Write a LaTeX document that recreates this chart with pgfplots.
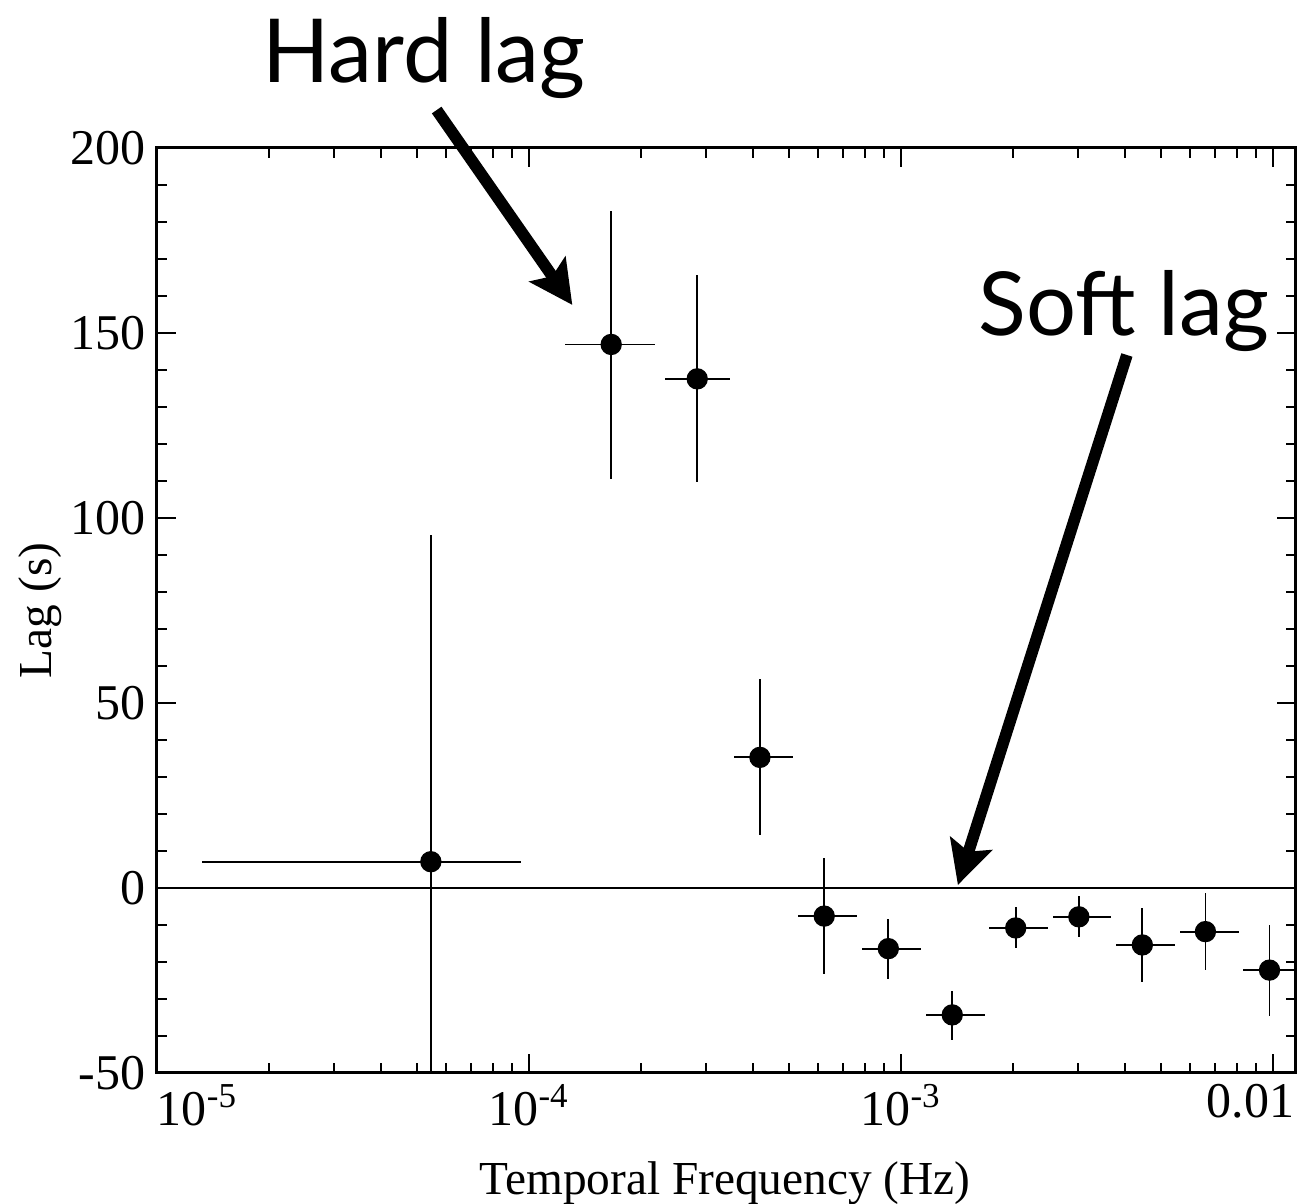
\documentclass[border=0pt]{standalone}
\usepackage{fontspec}
\setmainfont{Liberation Serif}
\newfontfamily\annotfont{Lato}
\usepackage{pgfplots}
\pgfplotsset{compat=1.18}
\usetikzlibrary{arrows.meta}
\begin{document}
\begin{tikzpicture}
\begin{axis}[
  width=341.7pt, height=277.5pt, scale only axis,
  xmode=log, xmin=1e-5, xmax=0.01153,
  ymin=-50, ymax=200,
  clip=false,
  axis line style={line width=0.9pt},
  every tick/.style={black, line width=0.6pt},
  major tick length=5.7pt, minor tick length=3pt,
  xtick={1e-5,1e-4,1e-3,1e-2},
  xticklabels={\makebox[0pt][l]{10\textsuperscript{-5}}, 10\textsuperscript{-4}, 10\textsuperscript{-3}, \makebox[0pt][r]{0.01\kern-6.4pt}},
  ytick={-50,0,50,100,150,200},
  yticklabels={-50,0,50,100,150,200},
  minor y tick num=4,
  ticklabel style={font=\fontsize{15}{17}\selectfont},
  label style={font=\fontsize{14.2}{17}\selectfont},
  xlabel={Temporal Frequency (Hz)},
  ylabel={Lag (s)},
  xlabel style={at={(rel axis cs:0.4987,-0.1319)}, anchor=base},
  ylabel style={at={(rel axis cs:-0.1027,0.5)}, anchor=center},
]
\draw[line width=0.6pt] (axis cs:1e-5,0) -- (axis cs:0.01153,0);
\addplot[only marks, mark=*, mark size=3pt, black,
  error bars/.cd, x dir=both, x explicit, y dir=both, y explicit,
  error mark=none, error bar style={line width=0.55pt, black}]
  table[x=x, y=y, x error plus=exp, x error minus=exm, y error plus=eyp, y error minus=eym] {
x        y      exm       exp       eym   eyp
5.45e-5  7.1    4.13e-5   4.08e-5   57.1  88.3
1.664e-4 146.9  0.412e-4  0.518e-4  36.3  36.1
2.834e-4 137.6  0.518e-4  0.629e-4  28.0  28.0
4.178e-4 35.3   0.621e-4  0.947e-4  21.1  21.1
6.22e-4  -7.6   0.935e-4  1.41e-4   15.6  15.8
9.25e-4  -16.4  1.39e-4   2.08e-4   8.2   8.1
1.374e-3 -34.3  2.05e-4   3.05e-4   6.8   6.5
2.035e-3 -10.8  3.07e-4   4.52e-4   5.4   5.6
3.008e-3 -7.8   4.49e-4   6.66e-4   5.5   5.6
4.456e-3 -15.4  6.78e-4   9.92e-4   9.9   9.9
6.585e-3 -11.8  9.69e-4   14.95e-4  10.5  10.5
9.79e-3  -22.2  14.7e-4   17.4e-4   12.4  12.1
};
\node[anchor=base west, inner sep=0pt, font=\annotfont\fontsize{26.5}{30}\selectfont] at (rel axis cs:0.0922,1.0703) {Hard lag};
\draw[line width=3.5pt, -{Stealth[length=13pt,width=13pt,inset=2.5pt]}] (rel axis cs:0.2456,1.041) -- (rel axis cs:0.3647,0.8303);
\node[anchor=base west, inner sep=0pt, font=\annotfont\fontsize{26.5}{30}\selectfont] at (rel axis cs:0.7208,0.7968) {Soft lag};
\draw[line width=3.5pt, -{Stealth[length=13pt,width=13pt,inset=2.5pt]}] (rel axis cs:0.8516,0.7762) -- (rel axis cs:0.7032,0.2032);
\coordinate (bbsw) at (rel axis cs:-0.1378,-0.1416);
\coordinate (bbne) at (rel axis cs:1.0018,1.16);
\end{axis}
\pgfresetboundingbox
\path (bbsw) rectangle (bbne);
\end{tikzpicture}
\end{document}
